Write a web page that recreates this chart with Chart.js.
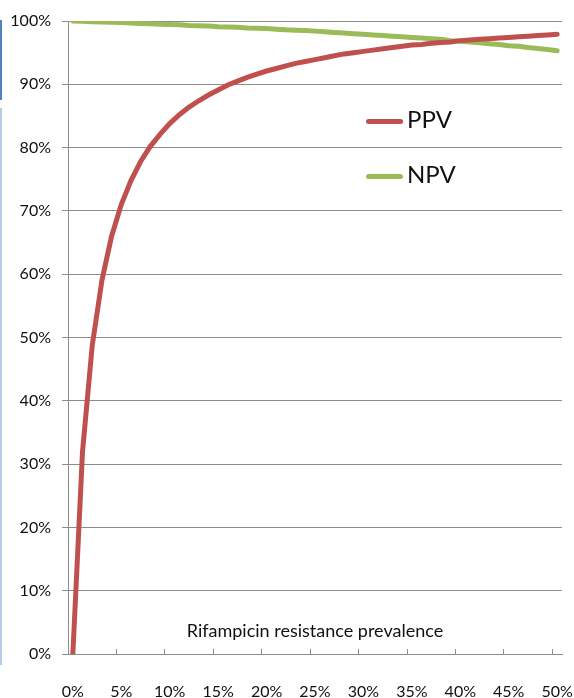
<!DOCTYPE html>
<html lang="en">
<head>
    <meta charset="utf-8" />
    <title>PPV / NPV vs prevalence</title>
    <script src="https://cdn.jsdelivr.net/npm/chart.js"></script>
    <style>
        body { margin: 0; background: #fff; }
        #wrap { position: relative; width: 574px; height: 698px; }
        #leftbar1 { position: absolute; left: 0; top: 20px; width: 2px; height: 80px; background: #4f81bd; }
        #leftbar2 { position: absolute; left: 0; top: 108px; width: 2px; height: 557px; background: #b8cce4; }
        #xtitle {
            position: absolute; left: 68px; width: 494px; top: 619px;
            text-align: center; font-family: Lato, sans-serif; font-size: 18px; color: #111;
        }
        .leg { position: absolute; left: 366px; font-family: Lato, sans-serif; font-size: 24px; color: #111; }
        .leg span { display: inline-block; width: 37px; height: 5px; border-radius: 3px; vertical-align: middle; margin-right: 4px; }
    </style>
</head>
<body>
<div id="wrap">
    <canvas id="chart" width="574" height="698"></canvas>
    <div id="leftbar1"></div>
    <div id="leftbar2"></div>
    <div id="xtitle">Rifampicin resistance prevalence</div>
    <div class="leg" style="top:104px"><span style="background:#c0504d"></span>PPV</div>
    <div class="leg" style="top:159px"><span style="background:#9bbb59"></span>NPV</div>
</div>

<script>
    // prevalence 0%..50% in steps of 1%
    var prevalence = [];
    for (var i = 0; i <= 50; i++) prevalence.push(i);

    // values in percent
    var ppv = [0, 32, 48.7, 59, 66, 71, 74.8, 77.8, 80.2, 82.1, 83.8,
        85.2, 86.4, 87.4, 88.3, 89.1, 89.9, 90.5, 91.1, 91.6, 92.1,
        92.5, 92.9, 93.3, 93.6, 93.9, 94.2, 94.5, 94.8, 95, 95.2,
        95.4, 95.6, 95.8, 96, 96.2, 96.3, 96.5, 96.6, 96.7, 96.9,
        97, 97.1, 97.2, 97.3, 97.4, 97.5, 97.6, 97.7, 97.8, 97.9];

    var npv = [100, 99.95, 99.9, 99.85, 99.8, 99.75, 99.7, 99.6, 99.55, 99.5, 99.45,
        99.4, 99.3, 99.25, 99.2, 99.1, 99.05, 99, 98.9, 98.85, 98.8,
        98.7, 98.6, 98.55, 98.5, 98.4, 98.3, 98.2, 98.1, 98, 97.9,
        97.8, 97.7, 97.6, 97.5, 97.4, 97.3, 97.2, 97.1, 96.9, 96.8,
        96.7, 96.55, 96.4, 96.3, 96.1, 96, 95.8, 95.65, 95.5, 95.3];

    var ctx = document.getElementById('chart').getContext('2d');

    var chart = new Chart(ctx, {
        type: 'line',
        data: {
            labels: prevalence.map(function (p) { return p + '%'; }),
            datasets: [{
                label: 'PPV',
                data: ppv,
                borderColor: '#c0504d',
                borderWidth: 5,
                pointRadius: 0,
                borderCapStyle: 'round',
                tension: 0
            }, {
                label: 'NPV',
                data: npv,
                borderColor: '#9bbb59',
                borderWidth: 5,
                pointRadius: 0,
                borderCapStyle: 'round',
                tension: 0
            }]
        },
        options: {
            responsive: false,
            animation: false,
            layout: { padding: { top: 21, right: 12, left: 0, bottom: 0 } },
            plugins: {
                legend: { display: false },
                tooltip: { enabled: false }
            },
            scales: {
                x: {
                    type: 'category',
                    offset: true,
                    grid: {
                        offset: true,
                        drawOnChartArea: false,
                        tickLength: -5,
                        color: function (c) {
                            return (c.index !== undefined && c.index % 5 === 0) ? '#8c8c8c' : 'rgba(0,0,0,0)';
                        }
                    },
                    border: { color: '#8c8c8c', width: 1 },
                    ticks: {
                        autoSkip: false,
                        maxRotation: 0,
                        padding: 33,
                        color: '#111',
                        font: { family: 'Lato', size: 16 },
                        callback: function (v, idx) {
                            return idx % 5 === 0 ? this.getLabelForValue(v) : '';
                        }
                    },
                    afterFit: function (s) {
                        s.height = 44;
                        s.paddingLeft = 0;
                        s.paddingRight = 0;
                    }
                },
                y: {
                    min: 0,
                    max: 100,
                    grid: { color: '#8c8c8c', lineWidth: 1, tickLength: 6 },
                    border: { color: '#8c8c8c', width: 1 },
                    ticks: {
                        stepSize: 10,
                        padding: 11,
                        color: '#111',
                        font: { family: 'Lato', size: 16 },
                        callback: function (v) { return v + '%'; }
                    },
                    afterFit: function (s) {
                        s.width = 68;
                        s.paddingTop = 0;
                        s.paddingBottom = 0;
                    }
                }
            }
        }
    });
</script>
</body>
</html>
